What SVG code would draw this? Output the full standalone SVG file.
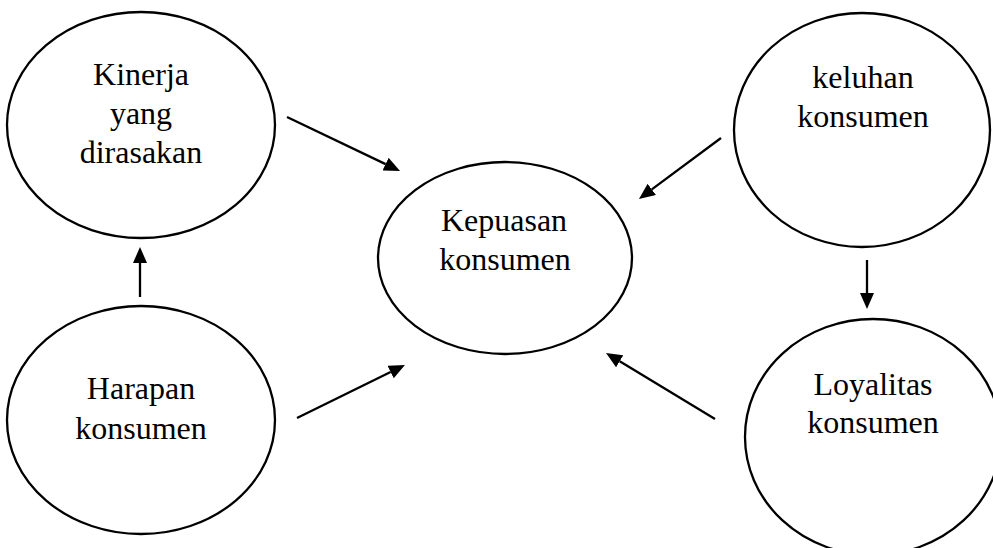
<svg xmlns="http://www.w3.org/2000/svg" width="993" height="548" viewBox="0 0 993 548">
<style>
.node ellipse{fill:#ffffff;stroke:#000000;stroke-width:2.3}
.node text{font-family:"Liberation Serif","Times New Roman",serif;font-size:32px;fill:#000000;text-anchor:middle}
#connectors line{stroke:#000000;stroke-width:2.3;marker-end:url(#arrow)}
</style>
<defs>
<marker id="arrow" viewBox="0 0 16 14" markerWidth="16" markerHeight="14" refX="0" refY="7" orient="auto" markerUnits="userSpaceOnUse">
<path d="M0,0 L16,7 L0,14 z" fill="#000000"/>
</marker>
</defs>
<rect width="993" height="548" fill="#ffffff"/>
<g id="kinerja" class="node">
<ellipse cx="141" cy="125" rx="134" ry="113"/>
<text x="141" y="85">Kinerja</text>
<text x="141" y="124">yang</text>
<text x="141" y="163">dirasakan</text>
</g>
<g id="harapan" class="node">
<ellipse cx="141" cy="420" rx="134" ry="114"/>
<text x="141" y="399">Harapan</text>
<text x="141" y="439">konsumen</text>
</g>
<g id="kepuasan" class="node">
<ellipse cx="505" cy="258" rx="127" ry="96"/>
<text x="504" y="231">Kepuasan</text>
<text x="505" y="270">konsumen</text>
</g>
<g id="keluhan" class="node">
<ellipse cx="862" cy="130" rx="128" ry="117"/>
<text x="863" y="88">keluhan</text>
<text x="863" y="127">konsumen</text>
</g>
<g id="loyalitas" class="node">
<ellipse cx="873" cy="437" rx="128" ry="118"/>
<text x="873" y="395">Loyalitas</text>
<text x="873" y="433">konsumen</text>
</g>
<g id="connectors">
<line x1="287" y1="117" x2="385.6" y2="164.1"/>
<line x1="297" y1="418" x2="390.6" y2="372.0"/>
<line x1="721" y1="138" x2="651.8" y2="189.4"/>
<line x1="715" y1="419" x2="619.7" y2="361.3"/>
<line x1="140" y1="297" x2="140" y2="263"/>
<line x1="867" y1="260" x2="867" y2="293"/>
</g>
</svg>
